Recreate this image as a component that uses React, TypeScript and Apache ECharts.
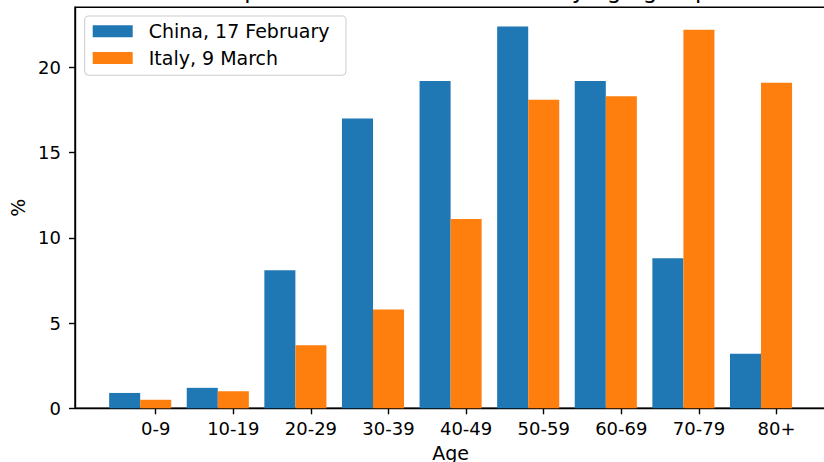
import React, { useEffect, useRef } from 'react';
import * as echarts from 'echarts';

const AGE_GROUPS = ['0-9', '10-19', '20-29', '30-39', '40-49', '50-59', '60-69', '70-79', '80+'];
const CHINA = [0.9, 1.2, 8.1, 17.0, 19.2, 22.4, 19.2, 8.8, 3.2];
const ITALY = [0.5, 1.0, 3.7, 5.8, 11.1, 18.1, 18.3, 22.2, 19.1];
const Y_TICKS = [0, 5, 10, 15, 20];
const SERIES_NAMES = ['China, 17 February', 'Italy, 9 March'];
const TITLE = 'Comparison of COVID-19 cases by age group';
const X_NAME = 'Age';
const Y_NAME = '%';

const FONT = 'DejaVu Sans';
const BAR_W = 0.4;

export default function App() {
  const ref = useRef<HTMLDivElement>(null);

  useEffect(() => {
    document.body.style.margin = '0';
    if (!ref.current) return;
    const chart = echarts.init(ref.current, null, { renderer: 'svg' });

    const renderBar = (params: any, api: any) => {
      const x = api.value(0);
      const y = api.value(1);
      const p0 = api.coord([x - BAR_W / 2, y]);
      const p1 = api.coord([x + BAR_W / 2, 0]);
      return {
        type: 'rect',
        shape: { x: p0[0], y: p0[1], width: p1[0] - p0[0], height: p1[1] - p0[1] },
        style: api.style(),
      };
    };

    const xTickValues = AGE_GROUPS.map((_, i) => i);

    chart.setOption({
      animation: false,
      color: ['#1f77b4', '#ff7f0e'],
      graphic: [
        {
          type: 'text',
          x: 450.6,
          y: -10.5,
          style: {
            text: TITLE,
            font: `23px "${FONT}"`,
            fill: '#000',
            align: 'center',
            verticalAlign: 'middle',
          },
        },
      ],
      grid: {
        left: 75,
        right: -2.2,
        top: 7.3,
        bottom: 53.7,
        containLabel: false,
        outerBoundsMode: 'none',
        show: true,
        borderColor: '#000',
        borderWidth: 1.4,
        backgroundColor: 'transparent',
      },
      legend: {
        orient: 'vertical',
        left: 84.7,
        top: 16,
        data: SERIES_NAMES,
        icon: 'rect',
        itemWidth: 40,
        itemHeight: 12,
        itemGap: 6.7,
        padding: [5.3, 16.5, 7.3, 8],
        backgroundColor: 'rgba(255,255,255,0.8)',
        borderColor: '#cccccc',
        borderWidth: 1,
        borderRadius: 4,
        textStyle: {
          fontFamily: FONT,
          fontSize: 19,
          color: '#000',
          lineHeight: 20,
          padding: [0, 0, 0, 11],
        },
      },
      xAxis: {
        type: 'value',
        min: -1.04,
        max: 8.64,
        name: X_NAME,
        nameLocation: 'middle',
        nameGap: 35,
        nameTextStyle: { fontFamily: FONT, fontSize: 19, color: '#000' },
        axisLine: { show: true, onZero: false, lineStyle: { color: '#000', width: 1.4 } },
        axisTick: {
          show: true,
          inside: false,
          length: 6,
          customValues: xTickValues,
          lineStyle: { color: '#000', width: 1.4 },
        },
        axisLabel: {
          show: true,
          margin: 11,
          customValues: xTickValues,
          fontFamily: FONT,
          fontSize: 18,
          color: '#000',
          formatter: (v: number) => AGE_GROUPS[Math.round(v)] ?? '',
        },
        splitLine: { show: false },
      },
      yAxis: {
        type: 'value',
        min: 0,
        max: 23.52,
        name: Y_NAME,
        nameLocation: 'middle',
        nameRotate: 90,
        nameGap: 47,
        nameTextStyle: { fontFamily: FONT, fontSize: 19, color: '#000' },
        axisLine: { show: true, onZero: false, lineStyle: { color: '#000', width: 1.4 } },
        axisTick: {
          show: true,
          inside: false,
          length: 6,
          customValues: Y_TICKS,
          lineStyle: { color: '#000', width: 1.4 },
        },
        axisLabel: {
          show: true,
          margin: 14,
          customValues: Y_TICKS,
          fontFamily: FONT,
          fontSize: 18,
          color: '#000',
          formatter: (v: number) => String(v),
        },
        splitLine: { show: false },
      },
      series: [
        {
          name: SERIES_NAMES[0],
          type: 'custom',
          renderItem: renderBar,
          itemStyle: { color: '#1f77b4' },
          encode: { x: 0, y: 1 },
          data: CHINA.map((v, i) => [i - BAR_W, v]),
        },
        {
          name: SERIES_NAMES[1],
          type: 'custom',
          renderItem: renderBar,
          itemStyle: { color: '#ff7f0e' },
          encode: { x: 0, y: 1 },
          data: ITALY.map((v, i) => [i, v]),
        },
      ],
    });

    return () => chart.dispose();
  }, []);

  return <div ref={ref} style={{ width: 824, height: 462 }} />;
}
